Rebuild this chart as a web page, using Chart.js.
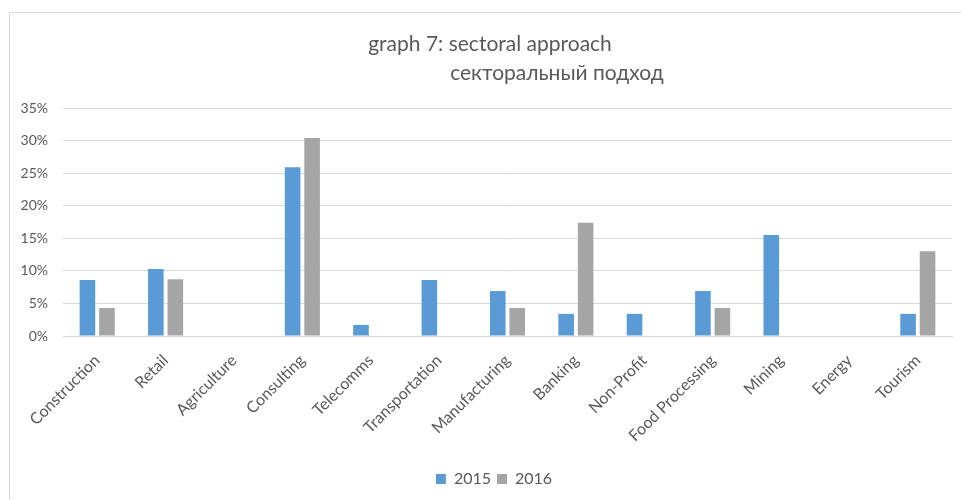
<!DOCTYPE html>
<html>
<head>
<meta charset="utf-8">
<script src="https://cdn.jsdelivr.net/npm/chart.js@4"></script>
<style>
  html, body { margin: 0; padding: 0; background: #fff; }
  #wrap { position: relative; width: 961px; height: 500px; }
</style>
</head>
<body>
<div id="wrap"><canvas id="c"></canvas></div>
<script>
const categories = ['Construction', 'Retail', 'Agriculture', 'Consulting', 'Telecomms', 'Transportation',
  'Manufacturing', 'Banking', 'Non-Profit', 'Food Processing', 'Mining', 'Energy', 'Tourism'];
const values2015 = [8.6, 10.3, 0, 25.9, 1.7, 8.6, 6.9, 3.4, 3.4, 6.9, 15.5, 0, 3.4];
const values2016 = [4.3, 8.7, 0, 30.4, 0, 0, 4.3, 17.4, 0, 4.3, 0, 0, 13.0];
const seriesNames = ['2015', '2016'];
const titleLines = ['graph 7: sectoral approach', 'секторальный подход'];
const yTicks = [0, 5, 10, 15, 20, 25, 30, 35];

const FONT = 'Lato, "Open Sans", sans-serif';
const TEXT = '#595959';

const frame = {
  id: 'frame',
  afterLayout(chart) {
    if (chart.legend) {
      chart.legend.left += 18;
      chart.legend.right += 18;
    }
  },
  beforeDraw(chart) {
    const ctx = chart.ctx;
    ctx.save();
    ctx.fillStyle = '#fff';
    ctx.fillRect(0, 0, chart.width, chart.height);
    ctx.strokeStyle = '#d9d9d9';
    ctx.lineWidth = 1;
    ctx.strokeRect(9.5, 12.5, chart.width + 10, chart.height + 10);
    ctx.restore();
  },
  afterDraw(chart) {
    const ctx = chart.ctx;
    ctx.save();
    ctx.fillStyle = TEXT;
    ctx.font = '21px ' + FONT;
    ctx.textAlign = 'center';
    ctx.textBaseline = 'middle';
    ctx.fillText(titleLines[0], 490, 44);
    ctx.fillText(titleLines[1], 557, 73);
    ctx.restore();
  }
};

new Chart(document.getElementById('c'), {
  type: 'bar',
  data: {
    labels: categories,
    datasets: [
      { label: seriesNames[0], data: values2015, backgroundColor: '#5B9BD5' },
      { label: seriesNames[1], data: values2016, backgroundColor: '#A5A5A5' }
    ]
  },
  options: {
    responsive: true,
    maintainAspectRatio: false,
    animation: false,
    categoryPercentage: 0.57,
    barPercentage: 0.8,
    layout: { padding: { left: 0, right: 9, top: 108, bottom: 3 } },
    plugins: {
      title: { display: false },
      tooltip: { enabled: false },
      legend: {
        position: 'bottom',
        labels: {
          boxWidth: 10, boxHeight: 10, color: TEXT,
          font: { family: FONT, size: 16 }, padding: 6
        }
      }
    },
    scales: {
      x: {
        grid: { display: false, drawTicks: false },
        border: { display: true, color: '#d9d9d9' },
        ticks: {
          color: TEXT, font: { family: FONT, size: 16 },
          minRotation: 45, maxRotation: 45, autoSkip: false, padding: 15
        },
        afterFit(scale) { scale.height = 129; }
      },
      y: {
        min: 0, max: 35,
        afterBuildTicks(scale) { scale.ticks = yTicks.map(v => ({ value: v })); },
        grid: { color: '#d9d9d9', drawTicks: false },
        border: { display: false },
        ticks: {
          color: TEXT, font: { family: FONT, size: 14 }, padding: 15,
          callback: v => v + '%'
        },
        afterFit(scale) { scale.width = 63; }
      }
    }
  },
  plugins: [frame]
});
</script>
</body>
</html>
